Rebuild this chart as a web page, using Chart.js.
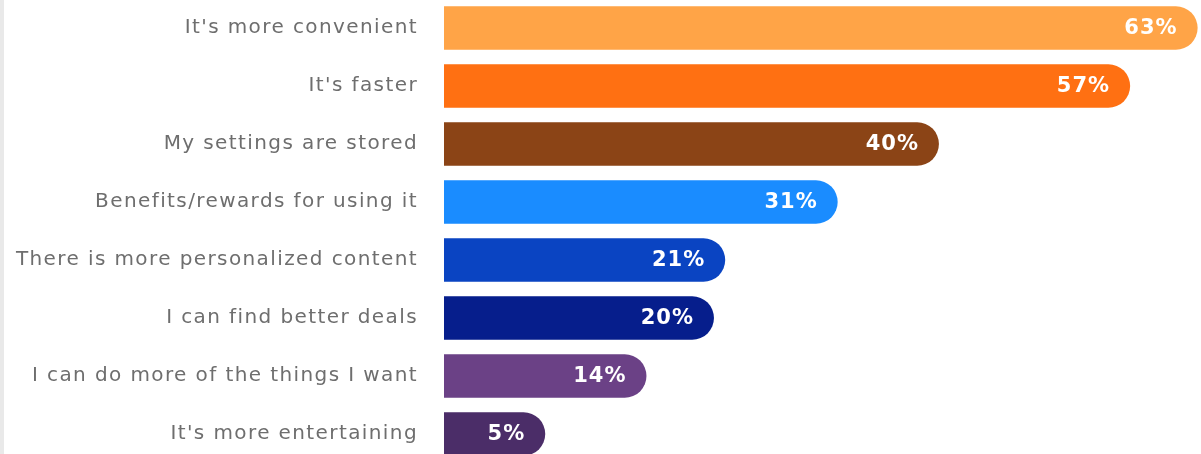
<!DOCTYPE html>
<html>
<head>
<meta charset="utf-8">
<script src="https://cdn.jsdelivr.net/npm/chart.js@4.4.1/dist/chart.umd.min.js"></script>
<style>
    html, body { margin: 0; padding: 0; background: #fff; overflow: hidden; }
    body { width: 1201px; height: 454px; position: relative; }
    .edge { position: absolute; left: 0; top: 0; width: 4px; height: 454px; background: #e9e9e9; }
    #myChart { position: absolute; left: 0; top: -1px; }
</style>
</head>
<body>
<div class="edge"></div>
<canvas id="myChart" width="1201" height="464"></canvas>
<script>
// Reasons given, share of respondents (%)
const reasons = [
    "It's more convenient",
    "It's faster",
    "My settings are stored",
    "Benefits/rewards for using it",
    "There is more personalized content",
    "I can find better deals",
    "I can do more of the things I want",
    "It's more entertaining"
];
const shares = [63, 57, 40, 31, 21, 20, 14, 5];
const barColors = ['#FFA447', '#FF7012', '#8B4416', '#1A8CFF', '#0A44C2', '#061E8C', '#6B4186', '#4B2D68'];

const axisMin = -4;

// wider spacing for the category names
const spacing = {
    id: 'spacing',
    beforeDraw(chart) {
        chart.ctx.letterSpacing = '1.4px';
    }
};

// white "63%" style labels near the rounded end of each bar
const valueLabels = {
    id: 'valueLabels',
    afterDatasetsDraw(chart) {
        const ctx = chart.ctx;
        const meta = chart.getDatasetMeta(0);
        ctx.save();
        ctx.letterSpacing = '1px';
        ctx.font = 'bold 21px "DejaVu Sans"';
        ctx.fillStyle = '#ffffff';
        ctx.textAlign = 'right';
        ctx.textBaseline = 'middle';
        meta.data.forEach(function (bar, i) {
            ctx.fillText(shares[i] + '%', bar.x - 20, bar.y + 1);
        });
        ctx.restore();
    }
};

function initializeChart() {
    const ctx = document.getElementById('myChart').getContext('2d');
    new Chart(ctx, {
        type: 'bar',
        data: {
            labels: reasons,
            datasets: [{
                data: shares,
                base: axisMin,
                backgroundColor: barColors,
                borderWidth: 0,
                borderSkipped: false,
                borderRadius: { topLeft: 0, bottomLeft: 0, topRight: 22, bottomRight: 22 },
                barPercentage: 0.75,
                categoryPercentage: 1
            }]
        },
        options: {
            indexAxis: 'y',
            responsive: false,
            animation: false,
            layout: { padding: 0 },
            plugins: {
                legend: { display: false },
                tooltip: { enabled: false }
            },
            scales: {
                x: {
                    display: false,
                    min: axisMin,
                    max: 63.3
                },
                y: {
                    grid: { display: false, drawTicks: false },
                    border: { display: false },
                    ticks: {
                        padding: 26,
                        color: '#6e6e6e',
                        font: { family: 'DejaVu Sans', size: 20 }
                    },
                    afterFit(scale) {
                        scale.width = 444;
                        // bars fill the full height, no room kept for label overhang
                        scale.paddingTop = 0;
                        scale.paddingBottom = 0;
                    }
                }
            }
        },
        plugins: [spacing, valueLabels]
    });
}

initializeChart();
</script>
</body>
</html>
